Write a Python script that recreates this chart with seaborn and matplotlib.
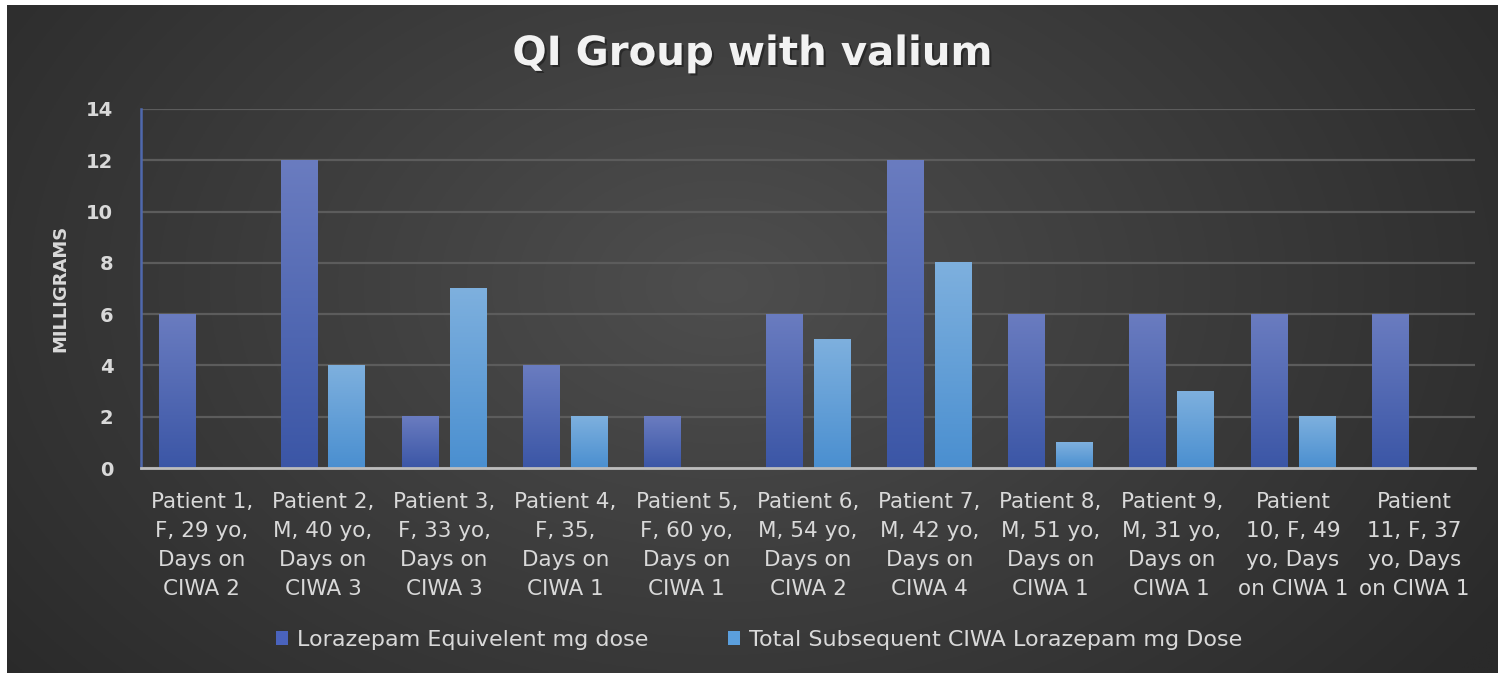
import numpy as np
import pandas as pd
import matplotlib
matplotlib.use("Agg")
import matplotlib.pyplot as plt
import seaborn as sns
from matplotlib.colors import LinearSegmentedColormap
from matplotlib.patches import Patch
import matplotlib.patheffects as pe

# ---------------- data ----------------
patients = [
    "Patient 1,\nF, 29 yo,\nDays on\nCIWA 2",
    "Patient 2,\nM, 40 yo,\nDays on\nCIWA 3",
    "Patient 3,\nF, 33 yo,\nDays on\nCIWA 3",
    "Patient 4,\nF, 35,\nDays on\nCIWA 1",
    "Patient 5,\nF, 60 yo,\nDays on\nCIWA 1",
    "Patient 6,\nM, 54 yo,\nDays on\nCIWA 2",
    "Patient 7,\nM, 42 yo,\nDays on\nCIWA 4",
    "Patient 8,\nM, 51 yo,\nDays on\nCIWA 1",
    "Patient 9,\nM, 31 yo,\nDays on\nCIWA 1",
    "Patient\n10, F, 49\nyo, Days\non CIWA 1",
    "Patient\n11, F, 37\nyo, Days\non CIWA 1",
]
lorazepam_equiv = [6, 12, 2, 4, 2, 6, 12, 6, 6, 6, 6]
subsequent_ciwa = [0, 4, 7, 2, 0, 5, 8, 1, 3, 2, 0]
series_names = ["Lorazepam Equivelent mg dose",
                "Total Subsequent CIWA Lorazepam mg Dose"]
y_ticks = [0, 2, 4, 6, 8, 10, 12, 14]
title = "QI Group with valium"
y_label = "MILLIGRAMS"

df = pd.DataFrame({
    "patient": patients * 2,
    "series": [series_names[0]] * len(patients) + [series_names[1]] * len(patients),
    "value": lorazepam_equiv + subsequent_ciwa,
})

# ---------------- style ----------------
sns.set_theme(style="white")
plt.rcParams["font.family"] = ["DejaVu Sans"]
txt_col = "#d9d9d9"
dark_col = "#4a63bd"
light_col = "#5b9fdd"
palette = [dark_col, light_col]

W, H = 1499, 673
fig = plt.figure(figsize=(W / 100, H / 100), dpi=100, facecolor="white")

# background gradient panel
bg = fig.add_axes([7 / W, 0, 1 - 8 / W, 1 - 5 / H], zorder=0)
yy, xx = np.mgrid[0:1:300j, 0:1:700j]
d = np.sqrt(((xx - 0.48) / 0.62) ** 2 + ((yy - 0.42) / 0.95) ** 2)
d = np.clip(d, 0, 1)
c_in = np.array([0x4e, 0x4e, 0x4e]) / 255
c_out = np.array([0x2a, 0x2a, 0x2a]) / 255
img = c_in[None, None, :] * (1 - d[..., None]) + c_out[None, None, :] * d[..., None]
bg.imshow(img, aspect="auto", extent=[0, 1, 0, 1], origin="upper")
bg.set_axis_off()

ax = fig.add_axes([141 / W, 1 - 468 / H, (1475 - 141) / W, (468 - 109) / H], zorder=1)
ax.set_facecolor("none")

sns.barplot(data=df, x="patient", y="value", hue="series",
            palette=palette, width=0.79, gap=0.23,
            ax=ax, legend=False, saturation=1, edgecolor="none", linewidth=0)

# gradient fill on bars
cmaps = [
    LinearSegmentedColormap.from_list("d", ["#3b56a6", "#6a7cc0"]),
    LinearSegmentedColormap.from_list("l", ["#4a8fd0", "#7eb0de"]),
]
grad = np.linspace(0, 1, 256).reshape(-1, 1)
for cont, cm in zip(ax.containers, cmaps):
    for p in cont.patches:
        h = p.get_height()
        if h <= 0:
            continue
        x0 = p.get_x()
        w = p.get_width()
        ax.imshow(grad, extent=[x0, x0 + w, 0, h], aspect="auto", origin="lower",
                  cmap=cm, zorder=p.get_zorder() + 0.1)

ax.set_xlim(-0.5, len(patients) - 0.5)
ax.set_ylim(0, 14)
ax.set_yticks(y_ticks)
ax.set_yticklabels([str(v) for v in y_ticks], fontsize=14, fontweight="bold",
                   color=txt_col)
ax.tick_params(axis="y", length=0, pad=20)
ax.tick_params(axis="x", length=0, pad=17, labelsize=15.5, labelcolor=txt_col)
for lab in ax.get_xticklabels():
    lab.set_linespacing(1.58)
    lab.set_color(txt_col)

ax.yaxis.grid(True, color="#5c5c5c", linewidth=1.6)
ax.set_axisbelow(True)
for s in ["top", "right"]:
    ax.spines[s].set_visible(False)
ax.spines["left"].set_color("#4f68ad")
ax.spines["left"].set_linewidth(1.8)
ax.spines["bottom"].set_color("#bdbdbd")
ax.spines["bottom"].set_linewidth(2)

ax.set_xlabel("")
ax.set_ylabel(y_label, fontsize=13, fontweight="bold", color=txt_col, labelpad=12)

# legend
handles = [Patch(facecolor=c, edgecolor="none") for c in palette]
ax.legend(handles, series_names, loc="center", bbox_to_anchor=(759 / W, 1 - 640 / H),
          bbox_transform=fig.transFigure, ncol=2, frameon=False, fontsize=16,
          labelcolor=txt_col, handlelength=0.55, handleheight=0.55, handletextpad=0.4,
          columnspacing=3.6)

fig.text(752 / W, 1 - 65 / H, title, ha="center", va="baseline", fontsize=29,
         fontweight="bold", color="#f2f2f2",
         path_effects=[pe.withSimplePatchShadow(offset=(1.5, -1.5),
                                                 shadow_rgbFace="#1a1a1a", alpha=0.6)])

fig.savefig("out.png", dpi=100, facecolor="white")
